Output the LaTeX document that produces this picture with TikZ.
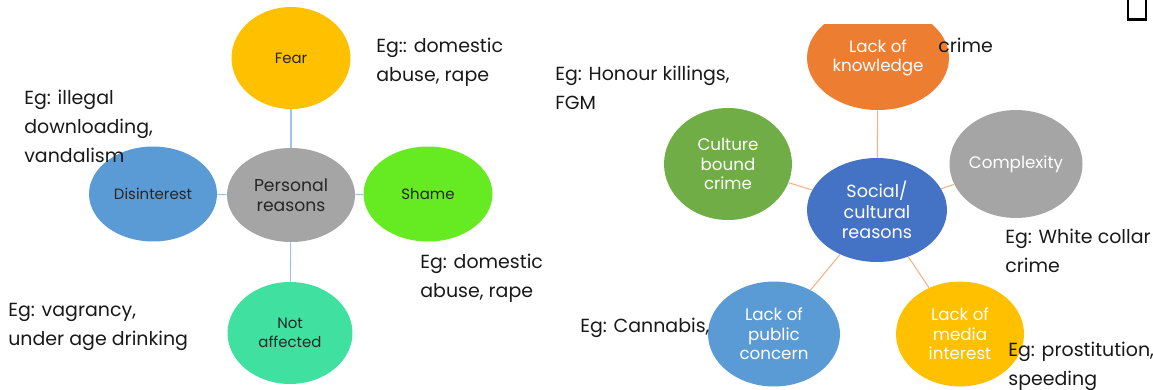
\documentclass[tikz,border=0pt]{standalone}
\usepackage{fontspec}
\setmainfont{Poppins}
\usepackage{xcolor}
\usepackage{tikz}
\usetikzlibrary{shapes.geometric}
\definecolor{cfear}{HTML}{FFC000}
\definecolor{cgray}{HTML}{A5A5A5}
\definecolor{clblue}{HTML}{5B9BD5}
\definecolor{cshame}{HTML}{66EB22}
\definecolor{cnotaff}{HTML}{40E0A0}
\definecolor{corange}{HTML}{ED7D31}
\definecolor{cgreen}{HTML}{70AD47}
\definecolor{cblue}{HTML}{4472C4}
\definecolor{lline}{HTML}{9DC3E6}
\definecolor{rline}{HTML}{F4B183}
\tikzset{
    bnode/.style = {ellipse, align=center, inner sep=0pt, text centered, draw=none},
    left_node/.style = {bnode, text=black!85, font=\fontsize{8.5}{11}\selectfont},
    right_node/.style = {bnode, text=white, font=\fontsize{9.5}{11.2}\selectfont},
    eg/.style = {align=left, anchor=west, inner sep=0pt, text=black!90, font=\fontsize{10.8}{16.5}\selectfont},
    lwire/.style = {draw=lline, line width=0.6pt},
    rwire/.style = {draw=rline, line width=0.6pt}
}

\begin{document}
\begin{tikzpicture}[x=0.02cm, y=-0.02cm]
    \useasboundingbox (0,0) rectangle (1153,389);

    % personal reasons
    \node [left_node, fill=cgray, minimum width=2.56cm, minimum height=1.88cm,
           font=\fontsize{9.8}{11.5}\selectfont] (personal) at (291,195) {Personal\\reasons};
    \node [left_node, fill=cfear, minimum width=2.38cm, minimum height=2.04cm] (fear) at (291,58) {Fear};
    \node [left_node, fill=clblue, minimum width=2.56cm, minimum height=1.9cm] (disint) at (153,194) {Disinterest};
    \node [left_node, fill=cshame, minimum width=2.58cm, minimum height=1.9cm] (shame) at (428,194) {Shame};
    \node [left_node, fill=cnotaff, minimum width=2.5cm, minimum height=2.04cm] (notaff) at (290,333) {Not\\affected};

    \draw [lwire] (fear) -- (personal);
    \draw [lwire] (disint) -- (personal);
    \draw [lwire] (shame) -- (personal);
    \draw [lwire] (notaff) -- (personal);

    \node [eg] (eg_fear) at (376,62) {Eg:: domestic\\abuse, rape};
    \node [eg] (eg_disint) at (24,126) {Eg: illegal\\downloading,\\vandalism};
    \node [eg] (eg_shame) at (420,278) {Eg: domestic\\abuse, rape};
    \node [eg] (eg_notaff) at (8,327) {Eg: vagrancy,\\under age drinking};

    % social / cultural reasons
    \node [right_node, fill=cblue, minimum width=2.8cm, minimum height=2.08cm,
           font=\fontsize{10}{11.7}\selectfont] (social) at (877,210) {Social/\\cultural\\reasons};
    \begin{scope}
        \clip (700,24) rectangle (1000,200);
        \node [right_node, fill=corange, minimum width=2.84cm, minimum height=2.08cm] (knowl) at (878,58) {Lack of\\knowledge};
    \end{scope}
    \node [right_node, fill=cgreen, minimum width=2.56cm, minimum height=2.24cm] (culture) at (728,164) {Culture\\bound\\crime};
    \node [right_node, fill=cgray, minimum width=2.66cm, minimum height=2.16cm] (complex) at (1016,164) {Complexity};
    \node [right_node, fill=clblue, minimum width=2.64cm, minimum height=2.1cm] (public) at (774,334) {Lack of\\public\\concern};
    \node [right_node, fill=cfear, minimum width=2.56cm, minimum height=2.1cm] (media) at (960,334) {Lack of\\media\\interest};

    \draw [rwire] (knowl) -- (social);
    \draw [rwire] (culture) -- (social);
    \draw [rwire] (complex) -- (social);
    \draw [rwire] (public) -- (social);
    \draw [rwire] (media) -- (social);

    \node [eg] (eg_knowl) at (938,45) {crime};
    \node [eg] (eg_culture) at (555,88) {Eg: Honour killings,\\FGM};
    \node [eg] (eg_complex) at (1005,251) {Eg: White collar\\crime};
    \node [eg] (eg_public) at (580,328) {Eg: Cannabis,};
    \node [eg] (eg_media) at (1008,366) {Eg: prostitution,\\speeding};

    % box at top right
    \node [draw=black, line width=1.4pt, minimum width=0.36cm, minimum height=0.66cm, inner sep=0pt] (corner) at (1137,3) {};
\end{tikzpicture}
\end{document}
